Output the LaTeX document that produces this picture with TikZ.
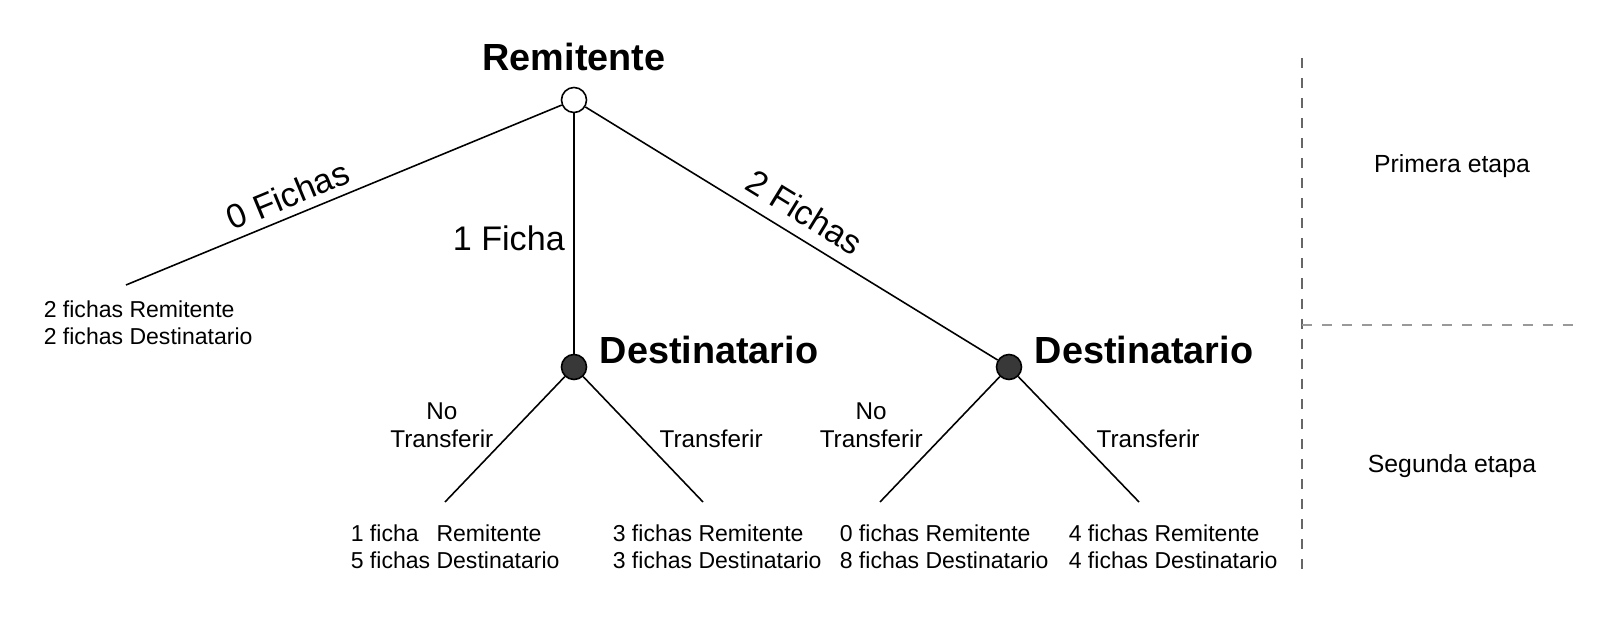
\documentclass[tikz,border=0pt]{standalone}
\usepackage{fontspec}
\setmainfont{Liberation Sans}
\usetikzlibrary{positioning}
\tikzset{
juego/.style={x=0.01cm,y=-0.01cm,line width=0.45pt},
inicial/.style={circle,draw,fill=white,minimum size=0.25cm,inner sep=0pt},
nodo/.style={circle,draw,fill=black!78,minimum size=0.25cm,inner sep=0pt},
jugador/.style={font=\bfseries\fontsize{10.75}{12}\selectfont},
rama/.style={font=\fontsize{9.7}{11}\selectfont},
accion/.style={font=\fontsize{6.9}{8}\selectfont,align=center,inner sep=0pt},
pago/.style={font=\fontsize{6.55}{7.7}\selectfont,align=left,inner sep=0pt,anchor=north west},
etapa/.style={font=\fontsize{7.05}{8.5}\selectfont},
divisor/.style={dash pattern=on 2.85pt off 2.85pt,line width=0.35pt},
}
\begin{document}
\begin{tikzpicture}[juego]
\useasboundingbox (0,0) rectangle (1606,622);

% decision nodes
\node[inicial] (r) [label={[jugador,label distance=1pt]above:Remitente}] at (574,100) {};
\node[nodo] (d1) [label={[jugador,yshift=4.8pt]right:Destinatario}] at (574,367) {};
\node[nodo] (d2) [label={[jugador,yshift=4.8pt]right:Destinatario}] at (1009,367) {};

% ends of the branches
\coordinate (h0) at (126,285);
\coordinate (h1) at (445,502);
\coordinate (h2) at (703,502);
\coordinate (h3) at (880,502);
\coordinate (h4) at (1139,502);

% first stage
\path (r) edge node[rama,sloped,above,pos=.61,inner sep=2.3pt] {0 Fichas} (h0);
\path (r) edge node[rama,left,pos=.52,inner sep=2.4pt] {1 Ficha} (d1);
\path (r) edge node[rama,sloped,above,pos=.5,inner sep=3.3pt] {2 Fichas} (d2);

% second stage
\path (d1) edge node[accion,left=7pt,pos=.385] {No\\Transferir} (h1);
\path (d1) edge node[accion,right=4.5pt,pos=.5] {Transferir} (h2);
\path (d2) edge node[accion,left=8.6pt,pos=.385] {No\\Transferir} (h3);
\path (d2) edge node[accion,right=4.9pt,pos=.5] {Transferir} (h4);

% payoffs
\node[pago] (p0) at (43,300) {2 fichas Remitente\\2 fichas Destinatario};
\node[pago] (p1) at (350,524) {1 ficha\phantom{s} Remitente\\5 fichas Destinatario};
\node[pago] (p2) at (612,524) {3 fichas Remitente\\3 fichas Destinatario};
\node[pago] (p3) at (839,524) {0 fichas Remitente\\8 fichas Destinatario};
\node[pago] (p4) at (1068,524) {4 fichas Remitente\\4 fichas Destinatario};

% stages
\coordinate (v1) at (1302,58);
\coordinate (v2) at (1302,578);
\coordinate (c1) at (1302,325);
\coordinate (c2) at (1582,325);
\draw[divisor,black!60] (v1) -- (v2);
\draw[divisor,black!40] (c1) -- (c2);
\node[etapa] (e1) at (1452,166) {Primera etapa};
\node[etapa] (e2) at (1452,466) {Segunda etapa};
\end{tikzpicture}
\end{document}
